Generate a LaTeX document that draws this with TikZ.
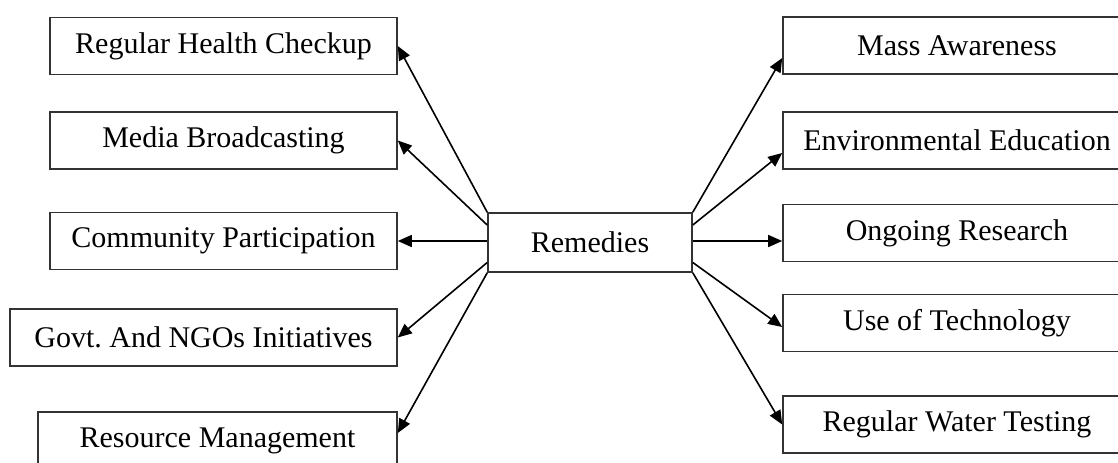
\documentclass[tikz,border=0pt]{standalone}
\usepackage{fontspec}
\setmainfont{Liberation Serif}
\usetikzlibrary{arrows.meta}

\begin{document}
\begin{tikzpicture}[x=1pt, y=1pt,
    box/.style={draw=black!80, line width=0.8pt, inner sep=0pt,
      minimum height=28.5pt, font=\fontsize{15}{18}\selectfont}]
    \useasboundingbox (0,0) rectangle (559,-231);
    % left column
    \node[box, minimum width=173.5pt] (health) at (111.75,-23)    {Regular Health Checkup};
    \node[box, minimum width=173.5pt] (media)  at (111.75,-70.25) {Media Broadcasting};
    \node[box, minimum width=173.5pt] (comm)   at (111.75,-120.5) {Community Participation};
    \node[box, minimum width=193.5pt] (govt)   at (101.75,-168.75){Govt.\ And NGOs Initiatives};
    \node[box, minimum width=179.5pt] (res)    at (108.75,-220.25){Resource Management};
    % centre
    \node[box, minimum width=102pt, minimum height=29.5pt] (rem) at (295,-121.25) {Remedies};
    % right column
    \node[box, minimum width=174pt] (mass)  at (478.5,-22.75)  {Mass Awareness};
    \node[box, minimum width=174pt] (env)   at (478.5,-70.25)  {Environmental Education};
    \node[box, minimum width=174pt] (res2)  at (478.5,-116.5)  {Ongoing Research};
    \node[box, minimum width=174pt] (tech)  at (478.5,-161.5)  {Use of Technology};
    \node[box, minimum width=174pt] (water) at (478.5,-212.25) {Regular Water Testing};
    \path[line width=0.8pt, -{Triangle[length=7pt, width=6pt]}]
      (rem.north west)            edge (health.east)
      ([yshift=8.75pt]rem.west)   edge (media.east)
      ([yshift=0.75pt]rem.west)   edge (comm.east)
      ([yshift=-10pt]rem.west)    edge (govt.east)
      (rem.south west)            edge ([yshift=3.75pt]res.east)
      (rem.north east)            edge ([yshift=-6.25pt]mass.west)
      ([yshift=8.75pt]rem.east)   edge ([yshift=-6.25pt]env.west)
      ([yshift=0.75pt]rem.east)   edge ([yshift=-4pt]res2.west)
      ([yshift=-10pt]rem.east)    edge ([yshift=-2pt]tech.west)
      (rem.south east)            edge (water.west);
\end{tikzpicture}
\end{document}
